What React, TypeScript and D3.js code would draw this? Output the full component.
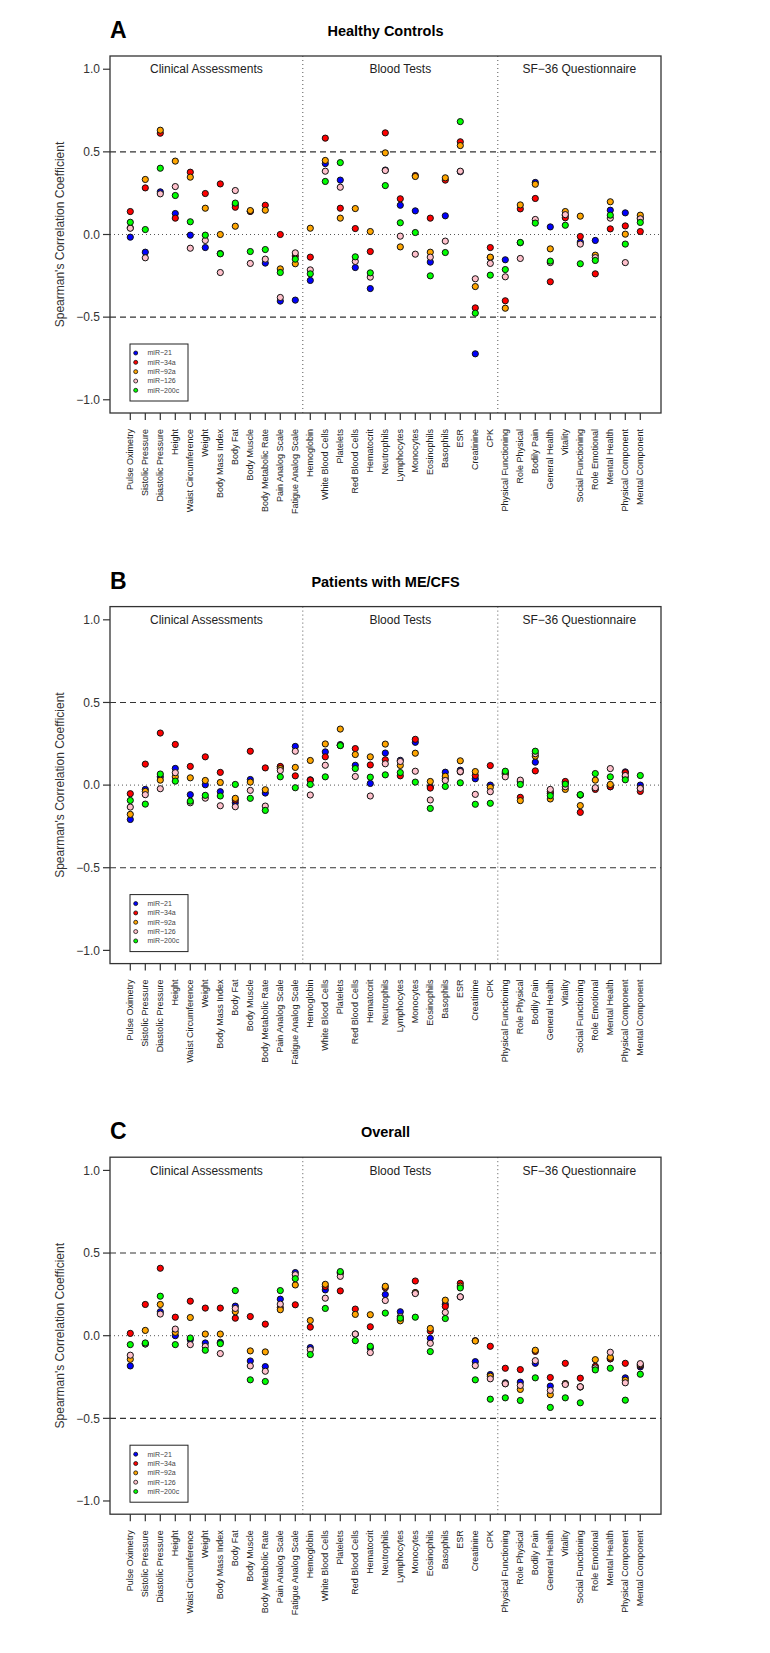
import React from "react";
import * as d3 from "d3";

const categories = [
  "Pulse Oximetry", "Sistolic Pressure", "Diastolic Pressure", "Height", "Waist Circumference",
  "Weight", "Body Mass Index", "Body Fat", "Body Muscle", "Body Metabolic Rate",
  "Pain Analog Scale", "Fatigue Analog Scale",
  "Hemoglobin", "White Blood Cells", "Platelets", "Red Blood Cells", "Hematocrit", "Neutrophils",
  "Lymphocytes", "Monocytes", "Eosinophils", "Basophils", "ESR", "Creatinine", "CPK",
  "Physical Functioning", "Role Physical", "Bodily Pain", "General Health", "Vitality",
  "Social Functioning", "Role Emotional", "Mental Health", "Physical Component", "Mental Component",
];

const groupLabels = ["Clinical Assessments", "Blood Tests", "SF\u221236 Questionnaire"];
const groupSizes = [12, 13, 10];
const seriesNames = ["miR\u221221", "miR\u221234a", "miR\u221292a", "miR\u2212126", "miR\u2212200c"];
const seriesColors = ["#0000ff", "#ff0000", "#ffa500", "#ffc0cb", "#00ff00"];
const yTicks = [-1, -0.5, 0, 0.5, 1];
const yTickLabels = ["\u22121.0", "\u22120.5", "0.0", "0.5", "1.0"];
const panelLetters = ["A", "B", "C"];
const panelTitles = ["Healthy Controls", "Patients with ME/CFS", "Overall"];

// Panel A — Healthy Controls
const hcMiR21 = [-0.016, -0.107, 0.258, 0.127, -0.004, -0.079, -0.115, 0.18, 0.14, -0.173, -0.403, -0.397,
  -0.278, 0.429, 0.329, -0.2, -0.327, 0.39, 0.177, 0.143, -0.167, 0.113, 0.38, -0.722, -0.14,
  -0.153, -0.05, 0.315, 0.046, 0.117, -0.046, -0.036, 0.147, 0.131, 0.1];
const hcMiR34a = [0.139, 0.282, 0.613, 0.099, 0.377, 0.248, 0.306, 0.165, 0.14, 0.177, 0.0, -0.13,
  -0.137, 0.583, 0.159, 0.036, -0.103, 0.615, 0.216, 0.357, 0.099, 0.329, 0.561, -0.444, -0.079,
  -0.401, 0.155, 0.218, -0.286, 0.101, -0.012, -0.238, 0.034, 0.052, 0.018];
const hcMiR92a = [0.04, 0.333, 0.631, 0.444, 0.347, 0.159, 0.0, 0.05, 0.145, 0.147, -0.208, -0.177,
  0.038, 0.448, 0.099, 0.157, 0.018, 0.494, -0.075, 0.351, -0.107, 0.343, 0.538, -0.315, -0.137,
  -0.446, 0.179, 0.304, -0.087, 0.139, 0.111, -0.125, 0.198, 0.002, 0.117];
const hcMiR126 = [0.038, -0.141, 0.246, 0.29, -0.083, -0.036, -0.23, 0.266, -0.175, -0.149, -0.381, -0.111,
  -0.214, 0.383, 0.286, -0.163, -0.258, 0.387, -0.01, -0.119, -0.137, -0.04, 0.383, -0.268, -0.175,
  -0.256, -0.145, 0.091, -0.17, 0.12, -0.058, -0.14, 0.099, -0.17, 0.095];
const hcMiR200c = [0.074, 0.03, 0.401, 0.236, 0.077, -0.004, -0.117, 0.19, -0.103, -0.091, -0.23, -0.149,
  -0.238, 0.321, 0.435, -0.135, -0.232, 0.296, 0.071, 0.012, -0.25, -0.109, 0.683, -0.476, -0.246,
  -0.212, -0.048, 0.069, -0.161, 0.056, -0.177, -0.157, 0.117, -0.058, 0.073];

// Panel B — Patients with ME/CFS
const meMiR21 = [-0.208, -0.026, 0.05, 0.101, -0.058, 0.002, -0.04, -0.107, 0.034, -0.048, 0.11, 0.234,
  0.032, 0.201, 0.245, 0.12, 0.01, 0.194, 0.15, 0.259, -0.01, 0.078, 0.09, 0.038, 0.0,
  0.075, 0.02, 0.139, -0.05, 0.014, -0.06, -0.02, -0.01, 0.08, 0.0];
const meMiR34a = [-0.052, 0.127, 0.315, 0.246, 0.113, 0.171, 0.077, -0.09, 0.205, 0.104, 0.113, 0.056,
  0.03, 0.171, 0.24, 0.221, 0.122, 0.153, 0.056, 0.277, -0.018, 0.038, 0.08, 0.058, 0.118,
  0.07, -0.074, 0.086, -0.04, 0.022, -0.165, -0.026, -0.01, 0.075, -0.038];
const meMiR92a = [-0.177, -0.038, 0.03, 0.05, 0.044, 0.028, 0.016, -0.08, 0.018, -0.028, 0.1, 0.107,
  0.149, 0.249, 0.339, 0.185, 0.171, 0.248, 0.119, 0.193, 0.022, 0.054, 0.147, 0.082, -0.014,
  0.065, -0.094, 0.175, -0.084, -0.026, -0.124, 0.03, 0.004, 0.05, -0.018];
const meMiR126 = [-0.133, -0.058, -0.022, 0.075, -0.107, -0.079, -0.125, -0.131, -0.032, -0.127, 0.088, 0.205,
  -0.06, 0.12, 0.24, 0.052, -0.066, 0.129, 0.143, 0.084, -0.09, 0.028, 0.082, -0.056, -0.04,
  0.05, 0.03, 0.19, -0.026, -0.01, -0.06, -0.016, 0.1, 0.058, -0.02];
const meMiR200c = [-0.093, -0.115, 0.067, 0.024, -0.097, -0.062, -0.066, 0.004, -0.08, -0.153, 0.05, -0.016,
  0.004, 0.05, 0.239, 0.1, 0.048, 0.062, 0.076, 0.018, -0.141, -0.008, 0.014, -0.116, -0.11,
  0.084, 0.004, 0.205, -0.064, 0.006, -0.058, 0.07, 0.05, 0.032, 0.058];

// Panel C — Overall
const allMiR21 = [-0.183, -0.05, 0.145, 0.0, -0.024, -0.044, -0.04, 0.179, -0.153, -0.187, 0.221, 0.382,
  -0.072, 0.277, 0.38, 0.01, -0.074, 0.249, 0.145, 0.26, -0.016, 0.19, 0.235, -0.157, -0.235,
  -0.285, -0.281, -0.167, -0.305, -0.29, -0.31, -0.19, -0.14, -0.255, -0.189];
const allMiR34a = [0.014, 0.189, 0.408, 0.112, 0.209, 0.167, 0.167, 0.106, 0.116, 0.07, 0.17, 0.187,
  0.052, 0.297, 0.271, 0.161, 0.054, 0.29, 0.1, 0.331, 0.028, 0.177, 0.317, -0.03, -0.064,
  -0.197, -0.205, -0.095, -0.253, -0.167, -0.257, -0.185, -0.14, -0.167, -0.18];
const allMiR92a = [-0.143, 0.032, 0.189, 0.02, 0.11, 0.01, 0.01, 0.145, -0.092, -0.098, 0.157, 0.307,
  0.092, 0.311, 0.38, 0.129, 0.127, 0.299, 0.09, 0.261, 0.044, 0.215, 0.3, -0.032, -0.245,
  -0.29, -0.325, -0.088, -0.357, -0.29, -0.31, -0.145, -0.131, -0.269, -0.175];
const allMiR126 = [-0.118, -0.05, 0.131, 0.04, -0.054, -0.065, -0.108, 0.165, -0.183, -0.215, 0.191, 0.369,
  -0.085, 0.227, 0.359, 0.01, -0.102, 0.213, 0.115, 0.255, -0.046, 0.141, 0.235, -0.181, -0.261,
  -0.291, -0.301, -0.151, -0.331, -0.295, -0.309, -0.195, -0.1, -0.285, -0.169];
const allMiR200c = [-0.054, -0.044, 0.239, -0.054, -0.014, -0.088, -0.048, 0.273, -0.267, -0.277, 0.273, 0.345,
  -0.114, 0.165, 0.388, -0.03, -0.064, 0.137, 0.106, 0.112, -0.096, 0.104, 0.289, -0.267, -0.384,
  -0.376, -0.392, -0.255, -0.434, -0.376, -0.406, -0.207, -0.197, -0.39, -0.233];

const panelSeries = [
  [hcMiR21, hcMiR34a, hcMiR92a, hcMiR126, hcMiR200c],
  [meMiR21, meMiR34a, meMiR92a, meMiR126, meMiR200c],
  [allMiR21, allMiR34a, allMiR92a, allMiR126, allMiR200c],
];

const W = 770;
const H = 1653;
const PANEL_H = 550.6;
const BOX_L = 110;
const BOX_R = 661;
const BOX_T = 56;
const BOX_B = 413;
const FONT = "Liberation Sans, Arial, Helvetica, sans-serif";

const x = d3.scaleLinear().domain([0, categories.length - 1]).range([130.3, 640.3]);
const y = d3.scaleLinear().domain([-1.08, 1.08]).range([BOX_B, BOX_T]);

function Panel({ idx }: { idx: number }) {
  const off = idx * PANEL_H;
  const series = panelSeries[idx];
  const bounds: number[] = [];
  let acc = 0;
  groupSizes.forEach((s) => {
    bounds.push(acc);
    acc += s;
  });
  const dividers = bounds.slice(1).map((b) => x(b - 0.5));
  const edges = [BOX_L, ...dividers, BOX_R];
  return (
    <g transform={`translate(0,${off})`} fontFamily={FONT}>
      <text x={BOX_L} y={38} fontSize={23} fontWeight="bold" fill="#000">
        {panelLetters[idx]}
      </text>
      <text x={(BOX_L + BOX_R) / 2} y={36} fontSize={14.5} fontWeight="bold" textAnchor="middle" fill="#000">
        {panelTitles[idx]}
      </text>
      {/* reference lines */}
      {[0.5, -0.5].map((v) => (
        <line key={v} x1={BOX_L} x2={BOX_R} y1={y(v)} y2={y(v)} stroke="#333" strokeWidth={1.1} strokeDasharray="6,4" />
      ))}
      <line x1={BOX_L} x2={BOX_R} y1={y(0)} y2={y(0)} stroke="#555" strokeWidth={1} strokeDasharray="1,3" />
      {dividers.map((dx, i) => (
        <line key={i} x1={dx} x2={dx} y1={BOX_T} y2={BOX_B} stroke="#555" strokeWidth={1} strokeDasharray="1,3" />
      ))}
      {groupLabels.map((g, i) => (
        <text key={g} x={(edges[i] + edges[i + 1]) / 2} y={y(1)} dy="0.35em" fontSize={12} textAnchor="middle" fill="#222">
          {g}
        </text>
      ))}
      {/* points */}
      {series.map((vals, s) => (
        <g key={s}>
          {vals.map((v, i) => (
            <circle key={i} cx={x(i)} cy={y(v)} r={3.1} fill={seriesColors[s]} stroke="#111" strokeWidth={1} />
          ))}
        </g>
      ))}
      {/* box */}
      <rect x={BOX_L} y={BOX_T} width={BOX_R - BOX_L} height={BOX_B - BOX_T} fill="none" stroke="#333" strokeWidth={1.3} />
      {/* y axis */}
      {yTicks.map((t, i) => (
        <g key={t}>
          <line x1={BOX_L - 7} x2={BOX_L} y1={y(t)} y2={y(t)} stroke="#333" strokeWidth={1.2} />
          <text x={BOX_L - 10} y={y(t)} dy="0.35em" fontSize={12} textAnchor="end" fill="#333">
            {yTickLabels[i]}
          </text>
        </g>
      ))}
      <text transform={`translate(60,${(BOX_T + BOX_B) / 2}) rotate(-90)`} fontSize={12} textAnchor="middle" dy="0.35em" fill="#333">
        Spearman's Correlation Coefficient
      </text>
      {/* x axis */}
      {categories.map((c, i) => (
        <g key={c}>
          <line x1={x(i)} x2={x(i)} y1={BOX_B} y2={BOX_B + 7} stroke="#333" strokeWidth={1.2} />
          <text transform={`translate(${x(i)},${BOX_B + 16}) rotate(-90)`} fontSize={9} textAnchor="end" dy="0.35em" fill="#222">
            {c}
          </text>
        </g>
      ))}
      {/* legend */}
      <rect x={130} y={344} width={58} height={57} fill="#fff" stroke="#222" strokeWidth={1} />
      {seriesNames.map((n, s) => (
        <g key={n}>
          <circle cx={135.7} cy={353 + s * 9.33} r={2} fill={seriesColors[s]} stroke="#111" strokeWidth={0.8} />
          <text x={147.5} y={353 + s * 9.33} dy="0.35em" fontSize={7} fill="#444">
            {n}
          </text>
        </g>
      ))}
    </g>
  );
}

export default function App() {
  return (
    <div style={{ position: "absolute", left: 0, top: 0, width: W, height: H, background: "#fff" }}>
      <svg width={W} height={H} viewBox={`0 0 ${W} ${H}`} xmlns="http://www.w3.org/2000/svg">
        <rect width={W} height={H} fill="#fff" />
        {[0, 1, 2].map((i) => (
          <Panel key={i} idx={i} />
        ))}
      </svg>
    </div>
  );
}
